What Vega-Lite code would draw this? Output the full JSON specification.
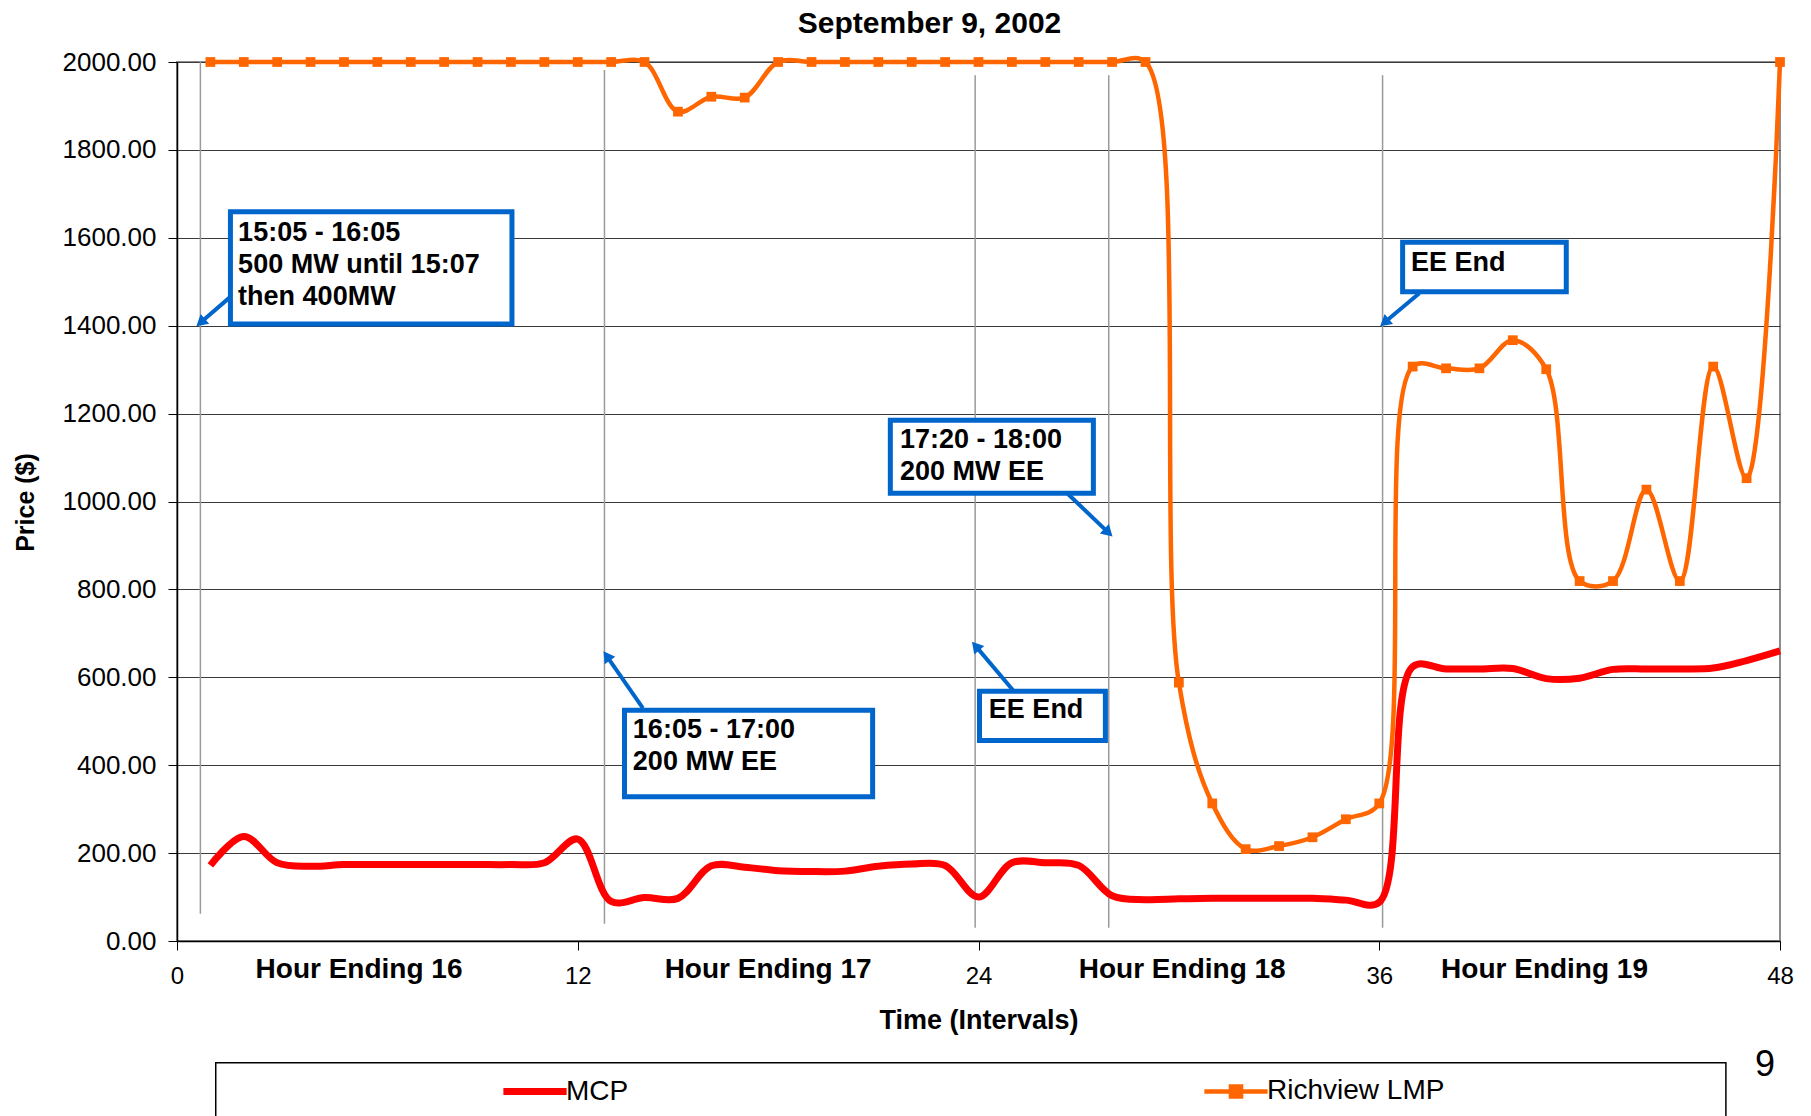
{
  "$schema": "https://vega.github.io/schema/vega-lite/v6.json",
  "width": 1603,
  "height": 879,
  "autosize": {"type": "none"},
  "padding": {"left": 177, "top": 62, "right": 31, "bottom": 175},
  "background": "white",
  "title": {"text": "September 9, 2002", "font": "Liberation Sans", "fontSize": 30, "fontWeight": "bold", "color": "black", "anchor": "middle", "frame": "group", "dx": -49, "offset": 10},
  "config": {
    "view": {"stroke": "#8c8c8c", "strokeWidth": 2},
    "font": "Liberation Sans",
    "axis": {"labelFont": "Liberation Sans", "titleFont": "Liberation Sans", "labelColor": "black", "titleColor": "black", "domainColor": "black", "domainWidth": 1.5, "tickColor": "black", "tickSize": 9, "titleFontWeight": "bold"},
    "axisX": {"grid": false, "labelFontSize": 24, "labelPadding": 14, "titleFontSize": 27, "titleY": 79, "titleBaseline": "middle", "labelFlush": false},
    "axisY": {"grid": true, "gridColor": "#3a3a3a", "gridWidth": 1, "labelFontSize": 26, "labelPadding": 12, "titleFontSize": 25, "titleX": -152, "titleY": 440, "titleBaseline": "middle", "titleAngle": 270}
  },
  "datasets": {
    "prices": [
      {"i":1,"series":"MCP","price":172},{"i":2,"series":"MCP","price":238},{"i":3,"series":"MCP","price":178},{"i":4,"series":"MCP","price":170},
      {"i":5,"series":"MCP","price":174},{"i":6,"series":"MCP","price":174},{"i":7,"series":"MCP","price":174},{"i":8,"series":"MCP","price":174},
      {"i":9,"series":"MCP","price":174},{"i":10,"series":"MCP","price":174},{"i":11,"series":"MCP","price":178},{"i":12,"series":"MCP","price":232},
      {"i":13,"series":"MCP","price":90},{"i":14,"series":"MCP","price":99},{"i":15,"series":"MCP","price":97},{"i":16,"series":"MCP","price":171},
      {"i":17,"series":"MCP","price":168},{"i":18,"series":"MCP","price":160},{"i":19,"series":"MCP","price":158},{"i":20,"series":"MCP","price":159},
      {"i":21,"series":"MCP","price":170},{"i":22,"series":"MCP","price":175},{"i":23,"series":"MCP","price":172},{"i":24,"series":"MCP","price":100},
      {"i":25,"series":"MCP","price":178},{"i":26,"series":"MCP","price":178},{"i":27,"series":"MCP","price":172},{"i":28,"series":"MCP","price":103},
      {"i":29,"series":"MCP","price":94},{"i":30,"series":"MCP","price":96},{"i":31,"series":"MCP","price":97},{"i":32,"series":"MCP","price":97},
      {"i":33,"series":"MCP","price":97},{"i":34,"series":"MCP","price":97},{"i":35,"series":"MCP","price":93},{"i":36,"series":"MCP","price":88},
      {"i":37,"series":"MCP","price":624},{"i":38,"series":"MCP","price":619},{"i":39,"series":"MCP","price":619},{"i":40,"series":"MCP","price":620},
      {"i":41,"series":"MCP","price":597},{"i":42,"series":"MCP","price":598},{"i":43,"series":"MCP","price":618},{"i":44,"series":"MCP","price":619},
      {"i":45,"series":"MCP","price":619},{"i":46,"series":"MCP","price":621},{"i":47,"series":"MCP","price":638},{"i":48,"series":"MCP","price":660},
      {"i":1,"series":"Richview LMP","price":2000},{"i":2,"series":"Richview LMP","price":2000},{"i":3,"series":"Richview LMP","price":2000},{"i":4,"series":"Richview LMP","price":2000},
      {"i":5,"series":"Richview LMP","price":2000},{"i":6,"series":"Richview LMP","price":2000},{"i":7,"series":"Richview LMP","price":2000},{"i":8,"series":"Richview LMP","price":2000},
      {"i":9,"series":"Richview LMP","price":2000},{"i":10,"series":"Richview LMP","price":2000},{"i":11,"series":"Richview LMP","price":2000},{"i":12,"series":"Richview LMP","price":2000},
      {"i":13,"series":"Richview LMP","price":2000},{"i":14,"series":"Richview LMP","price":2000},{"i":15,"series":"Richview LMP","price":1887},{"i":16,"series":"Richview LMP","price":1921},
      {"i":17,"series":"Richview LMP","price":1919},{"i":18,"series":"Richview LMP","price":2000},{"i":19,"series":"Richview LMP","price":2000},{"i":20,"series":"Richview LMP","price":2000},
      {"i":21,"series":"Richview LMP","price":2000},{"i":22,"series":"Richview LMP","price":2000},{"i":23,"series":"Richview LMP","price":2000},{"i":24,"series":"Richview LMP","price":2000},
      {"i":25,"series":"Richview LMP","price":2000},{"i":26,"series":"Richview LMP","price":2000},{"i":27,"series":"Richview LMP","price":2000},{"i":28,"series":"Richview LMP","price":2000},
      {"i":29,"series":"Richview LMP","price":2000},{"i":30,"series":"Richview LMP","price":588},{"i":31,"series":"Richview LMP","price":313},{"i":32,"series":"Richview LMP","price":209},
      {"i":33,"series":"Richview LMP","price":216},{"i":34,"series":"Richview LMP","price":236},{"i":35,"series":"Richview LMP","price":277},{"i":36,"series":"Richview LMP","price":313},
      {"i":37,"series":"Richview LMP","price":1307},{"i":38,"series":"Richview LMP","price":1303},{"i":39,"series":"Richview LMP","price":1303},{"i":40,"series":"Richview LMP","price":1367},
      {"i":41,"series":"Richview LMP","price":1301},{"i":42,"series":"Richview LMP","price":819},{"i":43,"series":"Richview LMP","price":819},{"i":44,"series":"Richview LMP","price":1027},
      {"i":45,"series":"Richview LMP","price":819},{"i":46,"series":"Richview LMP","price":1307},{"i":47,"series":"Richview LMP","price":1053},{"i":48,"series":"Richview LMP","price":2000}
    ],
    "guides": [
      {"x": 0.7, "y1": 62, "y2": 2000},
      {"x": 12.8, "y1": 39, "y2": 1982},
      {"x": 23.9, "y1": 30, "y2": 1970},
      {"x": 27.9, "y1": 30, "y2": 1970},
      {"x": 36.1, "y1": 30, "y2": 1970}
    ],
    "boxes": [
      {"x": 1.6, "x2": 10.03, "y": 1404, "y2": 1659},
      {"x": 13.4, "x2": 20.83, "y": 328, "y2": 525},
      {"x": 21.36, "x2": 27.44, "y": 1019, "y2": 1185},
      {"x": 24.03, "x2": 27.8, "y": 456, "y2": 568},
      {"x": 36.7, "x2": 41.6, "y": 1477, "y2": 1590}
    ],
    "notes": [
      {"x": 1.83, "y": 1611, "text": "15:05 - 16:05\n500 MW until 15:07\nthen 400MW"},
      {"x": 13.65, "y": 480, "text": "16:05 - 17:00\n200 MW EE"},
      {"x": 21.65, "y": 1140, "text": "17:20 - 18:00\n200 MW EE"},
      {"x": 24.31, "y": 525, "text": "EE End"},
      {"x": 36.95, "y": 1543, "text": "EE End"}
    ],
    "arrows": [
      {"sx": 1.59, "sy": 1465, "tx": 0.75, "ty": 1410, "dir": 229},
      {"sx": 13.95, "sy": 530, "tx": 12.9, "ty": 645, "dir": 325},
      {"sx": 26.68, "sy": 1017, "tx": 27.85, "ty": 932, "dir": 134},
      {"sx": 25.04, "sy": 570, "tx": 23.95, "ty": 668, "dir": 320},
      {"sx": 37.2, "sy": 1474, "tx": 36.2, "ty": 1410, "dir": 230}
    ],
    "hours": [
      {"x": 5.45, "label": "Hour Ending 16"},
      {"x": 17.7, "label": "Hour Ending 17"},
      {"x": 30.1, "label": "Hour Ending 18"},
      {"x": 40.95, "label": "Hour Ending 19"}
    ]
  },
  "layer": [
    {
      "data": {"name": "guides"},
      "mark": {"type": "rule", "color": "#9a9a9a", "strokeWidth": 1.5, "clip": false},
      "encoding": {
        "x": {"field": "x", "type": "quantitative", "title": "Time (Intervals)", "scale": {"domain": [0, 48], "nice": false, "zero": false}, "axis": {"values": [0, 12, 24, 36, 48], "format": "d"}},
        "y": {"field": "y1", "type": "quantitative", "title": "Price ($)", "scale": {"domain": [0, 2000], "nice": false}, "axis": {"values": [0, 200, 400, 600, 800, 1000, 1200, 1400, 1600, 1800, 2000], "format": ".2f"}},
        "y2": {"field": "y2"}
      }
    },
    {
      "data": {"name": "prices"},
      "transform": [{"filter": "datum.series === 'MCP'"}],
      "mark": {"type": "line", "interpolate": "catmull-rom", "strokeWidth": 7, "clip": false},
      "encoding": {
        "x": {"field": "i", "type": "quantitative", "title": "Time (Intervals)"},
        "y": {"field": "price", "type": "quantitative", "title": "Price ($)"},
        "color": {"field": "series", "type": "nominal", "scale": {"domain": ["MCP", "Richview LMP"], "range": ["#FF0000", "#FF6600"]},
          "legend": {"orient": "none", "legendX": 344, "legendY": 1015, "direction": "horizontal", "title": null, "symbolType": "stroke", "symbolSize": 4000, "symbolStrokeWidth": 7, "labelFontSize": 28, "labelFont": "Liberation Sans", "labelColor": "black", "labelOffset": 17, "labelLimit": 400, "columnPadding": 566, "padding": 0,
            "encode": {"symbols": {"update": {
              "shape": {"signal": "datum.value === 'MCP' ? 'stroke' : 'M-1,0H1M-0.16,-0.16H0.16V0.16H-0.16Z'"},
              "fill": {"signal": "datum.value === 'MCP' ? 'transparent' : '#FF6600'"},
              "strokeWidth": {"signal": "datum.value === 'MCP' ? 7 : 4.5"}
            }}}}}
      }
    },
    {
      "data": {"name": "prices"},
      "transform": [{"filter": "datum.series === 'Richview LMP'"}],
      "mark": {"type": "line", "interpolate": "catmull-rom", "strokeWidth": 4.5, "clip": false, "point": {"shape": "square", "size": 95, "filled": true, "color": "#FF6600"}},
      "encoding": {
        "x": {"field": "i", "type": "quantitative", "title": "Time (Intervals)"},
        "y": {"field": "price", "type": "quantitative", "title": "Price ($)"},
        "color": {"field": "series", "type": "nominal", "scale": {"domain": ["MCP", "Richview LMP"], "range": ["#FF0000", "#FF6600"]}}
      }
    },
    {
      "data": {"name": "boxes"},
      "mark": {"type": "rect", "fill": "white", "stroke": "#0066CC", "strokeWidth": 5, "clip": false},
      "encoding": {
        "x": {"field": "x", "type": "quantitative", "title": "Time (Intervals)"},
        "x2": {"field": "x2"},
        "y": {"field": "y", "type": "quantitative", "title": "Price ($)"},
        "y2": {"field": "y2"}
      }
    },
    {
      "data": {"name": "arrows"},
      "mark": {"type": "rule", "color": "#0066CC", "strokeWidth": 4, "clip": false},
      "encoding": {
        "x": {"field": "sx", "type": "quantitative", "title": "Time (Intervals)"},
        "x2": {"field": "tx"},
        "y": {"field": "sy", "type": "quantitative", "title": "Price ($)"},
        "y2": {"field": "ty"}
      }
    },
    {
      "data": {"name": "arrows"},
      "mark": {"type": "point", "shape": "triangle", "filled": true, "color": "#0066CC", "size": 170, "opacity": 1, "clip": false},
      "encoding": {
        "x": {"field": "tx", "type": "quantitative", "title": "Time (Intervals)"},
        "y": {"field": "ty", "type": "quantitative", "title": "Price ($)"},
        "angle": {"field": "dir", "type": "quantitative", "scale": null}
      }
    },
    {
      "data": {"name": "notes"},
      "mark": {"type": "text", "align": "left", "baseline": "middle", "font": "Liberation Sans", "fontSize": 27, "fontWeight": "bold", "color": "black", "lineBreak": "\n", "lineHeight": 32, "clip": false},
      "encoding": {
        "x": {"field": "x", "type": "quantitative", "title": "Time (Intervals)"},
        "y": {"field": "y", "type": "quantitative", "title": "Price ($)"},
        "text": {"field": "text"}
      }
    },
    {
      "data": {"name": "hours"},
      "mark": {"type": "text", "align": "center", "baseline": "middle", "font": "Liberation Sans", "fontSize": 28, "fontWeight": "bold", "color": "black", "clip": false},
      "encoding": {
        "x": {"field": "x", "type": "quantitative", "title": "Time (Intervals)"},
        "y": {"datum": -66, "type": "quantitative"},
        "text": {"field": "label"}
      }
    },
    {
      "data": {"values": [{}]},
      "mark": {"type": "rect", "fill": null, "fillOpacity": 0, "stroke": "black", "strokeWidth": 1.5, "clip": false},
      "encoding": {
        "x": {"datum": 1.16, "type": "quantitative"},
        "x2": {"datum": 46.38},
        "y": {"datum": -277, "type": "quantitative"},
        "y2": {"datum": -460}
      }
    },
    {
      "data": {"values": [{"page": "9"}]},
      "mark": {"type": "text", "align": "center", "baseline": "middle", "font": "Liberation Sans", "fontSize": 36, "color": "black", "clip": false},
      "encoding": {
        "x": {"datum": 47.55, "type": "quantitative"},
        "y": {"datum": -282, "type": "quantitative"},
        "text": {"field": "page"}
      }
    }
  ]
}
